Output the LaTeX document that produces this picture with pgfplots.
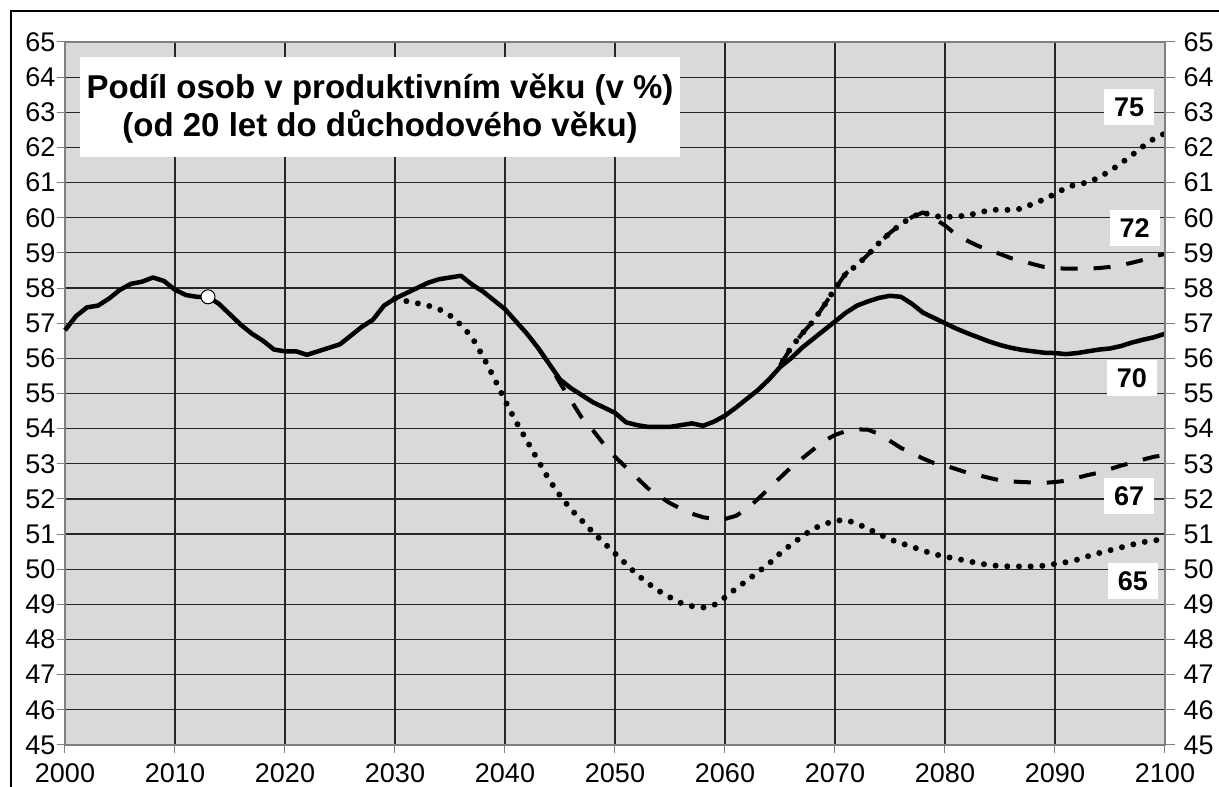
\documentclass[border=0pt]{standalone}
\usepackage{fontspec}
\setmainfont{Liberation Sans}
\usepackage{pgfplots}
\pgfplotsset{compat=1.18}
\begin{document}
\begin{tikzpicture}[x=1pt,y=1pt]
\useasboundingbox (-65,-42) rectangle (1154,745);
\begin{axis}[at={(0,0)}, anchor=south west, scale only axis,
  width=1100pt, height=703pt,
  xmin=2000, xmax=2100, ymin=45, ymax=65,
  xtick={2000,2010,...,2100}, ytick={45,46,...,65},
  xtick pos=bottom, ytick pos=left,
  grid=major, major grid style={black!85, line width=1.2pt},
  axis background/.style={fill=gray!30},
  tick align=outside, major tick length=8pt,
  tick style={gray, line width=1pt},
  x axis line style={black!75, line width=2pt},
  y axis line style={gray, line width=1.5pt},
  tick label style={font=\fontsize{27}{32}\selectfont},
  x tick label style={/pgf/number format/1000 sep={}, yshift=-7pt},
  y tick label style={xshift=2pt},
  /pgf/number format/assume math mode=true,
  clip=false]
% title box
\fill[white] (axis cs:2001.36,64.57) rectangle (axis cs:2055.9,61.73);
\node[anchor=base, font=\bfseries\fontsize{33}{40}\selectfont] at (axis cs:2028.64,63.38) {Podíl osob v produktivním věku (v \%)};
\node[anchor=base, font=\bfseries\fontsize{33}{40}\selectfont] at (axis cs:2028.64,62.30) {(od 20 let do důchodového věku)};
% label boxes
\tikzset{lbl/.style={fill=white, minimum width=50pt, minimum height=36pt, inner sep=0pt, font=\bfseries\fontsize{27}{32}\selectfont}}
\node[lbl] at (axis cs:2096.73,63.14) {75};
\node[lbl] at (axis cs:2097.23,59.72) {72};
\node[lbl] at (axis cs:2097.0,55.43) {70};
\node[lbl] at (axis cs:2096.73,52.08) {67};
\node[lbl] at (axis cs:2097.09,49.67) {65};
% 65 dotted
\addplot[black, line width=6pt, line cap=round, dash pattern=on 0pt off 11.7pt] coordinates {
(2030,57.7)(2031,57.63)(2032,57.57)(2033,57.5)(2034,57.4)(2035,57.22)(2036,56.95)(2037,56.6)(2038,56.05)(2039,55.45)(2040,54.8)(2041,54.2)(2042,53.65)(2043,53.1)(2044,52.55)(2045,52.1)(2046,51.7)(2047,51.38)(2048,51.05)(2049,50.75)(2050,50.45)(2051,50.15)(2052,49.85)(2053,49.6)(2054,49.38)(2055,49.2)(2056,49.04)(2057,48.95)(2058,48.91)(2059,48.98)(2060,49.2)(2061,49.45)(2062,49.68)(2063,49.92)(2064,50.16)(2065,50.45)(2066,50.7)(2067,50.93)(2068,51.15)(2069,51.28)(2070,51.38)(2071,51.4)(2072,51.3)(2073,51.15)(2074,51.0)(2075,50.85)(2076,50.74)(2077,50.64)(2078,50.53)(2079,50.43)(2080,50.36)(2081,50.3)(2082,50.24)(2083,50.17)(2084,50.12)(2085,50.09)(2086,50.08)(2087,50.08)(2088,50.08)(2089,50.1)(2090,50.15)(2091,50.2)(2092,50.27)(2093,50.37)(2094,50.46)(2095,50.54)(2096,50.62)(2097,50.7)(2098,50.77)(2099,50.82)(2100,50.85)};
% 67 dashed
\addplot[black, line width=4pt, dash pattern=on 17pt off 16pt] coordinates {
(2043,56.3)(2044,55.85)(2045,55.3)(2046,54.8)(2047,54.3)(2048,53.95)(2049,53.55)(2050,53.2)(2051,52.9)(2052,52.6)(2053,52.3)(2054,52.08)(2055,51.88)(2056,51.72)(2057,51.58)(2058,51.48)(2059,51.43)(2060,51.43)(2061,51.52)(2062,51.72)(2063,52.0)(2064,52.3)(2065,52.6)(2066,52.9)(2067,53.15)(2068,53.4)(2069,53.65)(2070,53.82)(2071,53.93)(2072,53.98)(2073,53.97)(2074,53.85)(2075,53.65)(2076,53.45)(2077,53.3)(2078,53.15)(2079,53.02)(2080,52.95)(2081,52.85)(2082,52.75)(2083,52.68)(2084,52.6)(2085,52.53)(2086,52.5)(2087,52.48)(2088,52.47)(2089,52.46)(2090,52.48)(2091,52.52)(2092,52.6)(2093,52.68)(2094,52.75)(2095,52.85)(2096,52.95)(2097,53.03)(2098,53.12)(2099,53.2)(2100,53.25)};
% 72 dashed
\addplot[black, line width=4pt, dash pattern=on 17pt off 16pt] coordinates {
(2065,55.8)(2066,56.3)(2067,56.7)(2068,57.05)(2069,57.5)(2070,57.98)(2071,58.42)(2072,58.65)(2073,58.95)(2074,59.28)(2075,59.57)(2076,59.82)(2077,60.02)(2078,60.15)(2079,59.98)(2080,59.78)(2081,59.52)(2082,59.35)(2083,59.2)(2084,59.08)(2085,58.97)(2086,58.85)(2087,58.77)(2088,58.68)(2089,58.6)(2090,58.57)(2091,58.55)(2092,58.55)(2093,58.55)(2094,58.57)(2095,58.6)(2096,58.65)(2097,58.72)(2098,58.8)(2099,58.9)(2100,58.97)};
% 75 dotted
\addplot[black, line width=6pt, line cap=round, dash pattern=on 0pt off 11.7pt, dash phase=6pt] coordinates {
(2065,55.8)(2066,56.3)(2067,56.7)(2068,57.05)(2069,57.5)(2070,57.98)(2071,58.42)(2072,58.65)(2073,58.95)(2074,59.28)(2075,59.57)(2076,59.82)(2077,60.02)(2078,60.15)(2079,60.05)(2080,60.02)(2081,60.03)(2082,60.07)(2083,60.13)(2084,60.22)(2085,60.23)(2086,60.22)(2087,60.26)(2088,60.4)(2089,60.52)(2090,60.68)(2091,60.85)(2092,60.96)(2093,61.0)(2094,61.15)(2095,61.33)(2096,61.55)(2097,61.78)(2098,62.03)(2099,62.25)(2100,62.4)};
% 70 solid (incl. history)
\addplot[black, line width=4.5pt, line join=round] coordinates {
(2000,56.8)(2001,57.2)(2002,57.45)(2003,57.5)(2004,57.7)(2005,57.95)(2006,58.12)(2007,58.18)(2008,58.3)(2009,58.2)(2010,57.95)(2011,57.8)(2012,57.75)(2013,57.75)(2014,57.55)(2015,57.25)(2016,56.95)(2017,56.7)(2018,56.5)(2019,56.25)(2020,56.2)(2021,56.2)(2022,56.1)(2023,56.2)(2024,56.3)(2025,56.4)(2026,56.65)(2027,56.9)(2028,57.1)(2029,57.5)(2030,57.7)(2031,57.85)(2032,58.0)(2033,58.15)(2034,58.25)(2035,58.3)(2036,58.35)(2037,58.1)(2038,57.9)(2039,57.65)(2040,57.4)(2041,57.05)(2042,56.7)(2043,56.3)(2044,55.85)(2045,55.4)(2046,55.15)(2047,54.95)(2048,54.75)(2049,54.6)(2050,54.45)(2051,54.18)(2052,54.1)(2053,54.05)(2054,54.05)(2055,54.05)(2056,54.1)(2057,54.15)(2058,54.08)(2059,54.2)(2060,54.37)(2061,54.6)(2062,54.85)(2063,55.1)(2064,55.4)(2065,55.75)(2066,56.0)(2067,56.3)(2068,56.55)(2069,56.8)(2070,57.05)(2071,57.3)(2072,57.5)(2073,57.62)(2074,57.72)(2075,57.78)(2076,57.75)(2077,57.55)(2078,57.3)(2079,57.15)(2080,57.0)(2081,56.85)(2082,56.72)(2083,56.6)(2084,56.48)(2085,56.38)(2086,56.3)(2087,56.24)(2088,56.2)(2089,56.16)(2090,56.15)(2091,56.12)(2092,56.15)(2093,56.2)(2094,56.25)(2095,56.28)(2096,56.35)(2097,56.45)(2098,56.53)(2099,56.6)(2100,56.7)};
% circle marker
\addplot[only marks, mark=*, mark size=7pt, mark options={fill=white, draw=black, line width=1pt}] coordinates {(2013,57.75)};
\end{axis}
\begin{axis}[at={(0,0)}, anchor=south west, scale only axis,
  width=1100pt, height=703pt,
  xmin=2000, xmax=2100, ymin=45, ymax=65,
  axis x line=none, axis y line*=right,
  ytick={45,46,...,65},
  tick align=outside, major tick length=10pt,
  tick style={gray, line width=1pt},
  y axis line style={gray, line width=1.5pt},
  tick label style={font=\fontsize{27}{32}\selectfont},
  y tick label style={xshift=5pt},
  /pgf/number format/assume math mode=true]
\addplot[draw=none] coordinates {(2000,45)};
\end{axis}
\draw[black, line width=1.5pt] (-54,-50) -- (-54,734) -- (1160,734);
\end{tikzpicture}
\end{document}
